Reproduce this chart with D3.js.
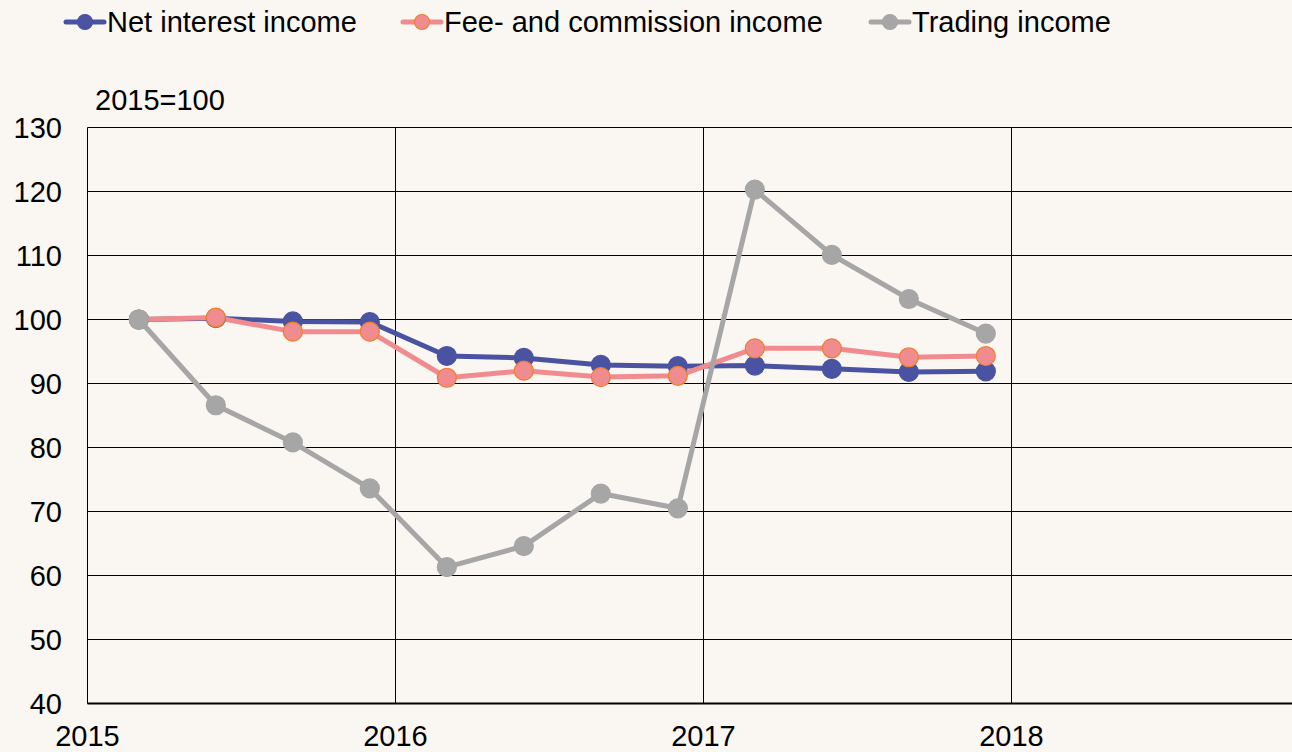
<!DOCTYPE html>
<html>
<head>
<meta charset="utf-8">
<script src="https://cdn.jsdelivr.net/npm/d3@7"></script>
<style>
  body { margin: 0; background: #faf6f1; }
  svg { display: block; font-family: "Liberation Sans", Arial, sans-serif; }
</style>
</head>
<body>
<svg id="chart" width="1292" height="752"></svg>
<script>
/*************************************/
/*               Data                */
/*************************************/
const quarters = [
  2015 + 2 / 12, 2015 + 5 / 12, 2015 + 8 / 12, 2015 + 11 / 12,
  2016 + 2 / 12, 2016 + 5 / 12, 2016 + 8 / 12, 2016 + 11 / 12,
  2017 + 2 / 12, 2017 + 5 / 12, 2017 + 8 / 12, 2017 + 11 / 12
];
const netInterest = [100, 100.2, 99.7, 99.6, 94.3, 94.0, 92.9, 92.7, 92.8, 92.3, 91.8, 91.9];
const feeCommission = [100, 100.3, 98.1, 98.1, 90.9, 92.0, 91.0, 91.2, 95.5, 95.5, 94.1, 94.3];
const trading = [100, 86.6, 80.8, 73.6, 61.3, 64.6, 72.8, 70.5, 120.3, 110.1, 103.2, 97.8];

const xTicks = [2015, 2016, 2017, 2018];
const yTicks = [40, 50, 60, 70, 80, 90, 100, 110, 120, 130];

const series = [
  { label: "Net interest income", values: netInterest, color: "#4a53a2", stroke: "#4a53a2", legendX: 65 },
  { label: "Fee- and commission income", values: feeCommission, color: "#f08c8f", stroke: "#f07f2a", legendX: 402 },
  { label: "Trading income", values: trading, color: "#a6a6a6", stroke: "#a6a6a6", legendX: 870 }
];

const fontSize = "29px";

/*************************************/
/*              Scales               */
/*************************************/
const svg = d3.select("#chart");

const xScale = d3.scaleLinear()
  .domain([2015, 2019])
  .range([87.5, 1319.5]);

const yScale = d3.scaleLinear()
  .domain([40, 130])
  .range([703.5, 127.5]);

/*************************************/
/*            Grid & axes            */
/*************************************/
svg.append("g")
  .selectAll("line")
  .data(yTicks)
  .join("line")
    .attr("x1", xScale(2015))
    .attr("x2", 1292)
    .attr("y1", d => yScale(d))
    .attr("y2", d => yScale(d))
    .attr("stroke", "#000")
    .attr("stroke-width", 1);

svg.append("g")
  .selectAll("line")
  .data(xTicks)
  .join("line")
    .attr("x1", d => xScale(d))
    .attr("x2", d => xScale(d))
    .attr("y1", yScale(130))
    .attr("y2", yScale(40))
    .attr("stroke", "#000")
    .attr("stroke-width", 1);

// bottom axis line is a bit heavier
svg.append("line")
  .attr("x1", xScale(2015))
  .attr("x2", 1292)
  .attr("y1", yScale(40))
  .attr("y2", yScale(40))
  .attr("stroke", "#000")
  .attr("stroke-width", 2);

svg.append("g")
  .selectAll("text")
  .data(yTicks)
  .join("text")
    .attr("x", 62)
    .attr("y", d => yScale(d))
    .attr("dy", "0.36em")
    .attr("text-anchor", "end")
    .style("font-size", fontSize)
    .attr("fill", "#000")
    .text(d => d);

svg.append("g")
  .selectAll("text")
  .data(xTicks)
  .join("text")
    .attr("x", d => xScale(d))
    .attr("y", 746)
    .attr("text-anchor", "middle")
    .style("font-size", fontSize)
    .attr("fill", "#000")
    .text(d => d);

svg.append("text")
  .attr("x", 95)
  .attr("y", 110)
  .style("font-size", fontSize)
  .attr("fill", "#000")
  .text("2015=100");

/*************************************/
/*          Lines & markers          */
/*************************************/
const line = d3.line()
  .x((d, i) => xScale(quarters[i]))
  .y(d => yScale(d));

svg.append("g")
  .selectAll("path")
  .data(series)
  .join("path")
    .attr("d", d => line(d.values))
    .attr("fill", "none")
    .attr("stroke", d => d.color)
    .attr("stroke-width", 5)
    .attr("stroke-linejoin", "round");

series.forEach(s => {
  svg.append("g")
    .selectAll("circle")
    .data(s.values)
    .join("circle")
      .attr("cx", (d, i) => xScale(quarters[i]))
      .attr("cy", d => yScale(d))
      .attr("r", 9.5)
      .attr("fill", s.color)
      .attr("stroke", s.stroke)
      .attr("stroke-width", 1.2);
});

/*************************************/
/*              Legend               */
/*************************************/
const legend = svg.append("g")
  .selectAll("g")
  .data(series)
  .join("g")
    .attr("transform", d => `translate(${d.legendX}, 22)`);

legend.append("line")
  .attr("x1", 1)
  .attr("x2", 39)
  .attr("stroke", d => d.color)
  .attr("stroke-width", 5)
  .attr("stroke-linecap", "round");

legend.append("circle")
  .attr("cx", 20)
  .attr("r", 7.5)
  .attr("fill", d => d.color)
  .attr("stroke", d => d.stroke)
  .attr("stroke-width", 1.2);

legend.append("text")
  .attr("x", 42)
  .attr("dy", "0.36em")
  .style("font-size", fontSize)
  .attr("fill", "#000")
  .text(d => d.label);
</script>
</body>
</html>
